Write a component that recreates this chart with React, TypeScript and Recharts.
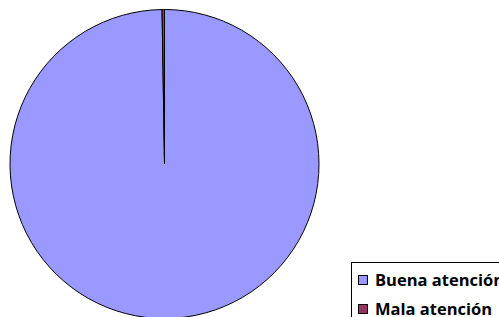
import { PieChart, Pie, Cell, Legend } from "recharts";

const categories = ["Buena atención", "Mala atención"];
const values = [399, 1];
const colors = ["#9999FF", "#993366"];

const data = categories.map((name, i) => ({ name, value: values[i] }));

function BoxLegend() {
  return (
    <div
      style={{
        border: "1px solid #000",
        background: "#fff",
        width: 170,
        height: 70,
        padding: "2px 0 0 6px",
        boxSizing: "border-box",
        fontFamily: "'Open Sans', sans-serif",
        fontWeight: 700,
        fontSize: 16.5,
        whiteSpace: "nowrap",
      }}
    >
      {categories.map((c, i) => (
        <div key={c} style={{ display: "flex", alignItems: "center", height: 29 }}>
          <span
            style={{
              display: "inline-block",
              width: 8,
              height: 8,
              border: "1px solid #000",
              background: colors[i],
              marginRight: 7,
            }}
          />
          <span>{c}</span>
        </div>
      ))}
    </div>
  );
}

export default function App() {
  return (
    <div style={{ position: "absolute", left: 0, top: 0, width: 499, height: 317, overflow: "hidden", background: "#fff" }}>
      <PieChart width={499} height={317} margin={{ top: 0, right: 0, bottom: 0, left: 0 }}>
        <Pie
          data={data}
          dataKey="value"
          nameKey="name"
          cx={164.5}
          cy={164}
          outerRadius={154.5}
          startAngle={90}
          endAngle={-270}
          stroke="#000"
          strokeWidth={1}
          isAnimationActive={false}
        >
          {data.map((d, i) => (
            <Cell key={d.name} fill={colors[i]} />
          ))}
        </Pie>
        <Legend
          content={() => <BoxLegend />}
          wrapperStyle={{ position: "absolute", left: 351, top: 262, width: 170 }}
        />
      </PieChart>
    </div>
  );
}
